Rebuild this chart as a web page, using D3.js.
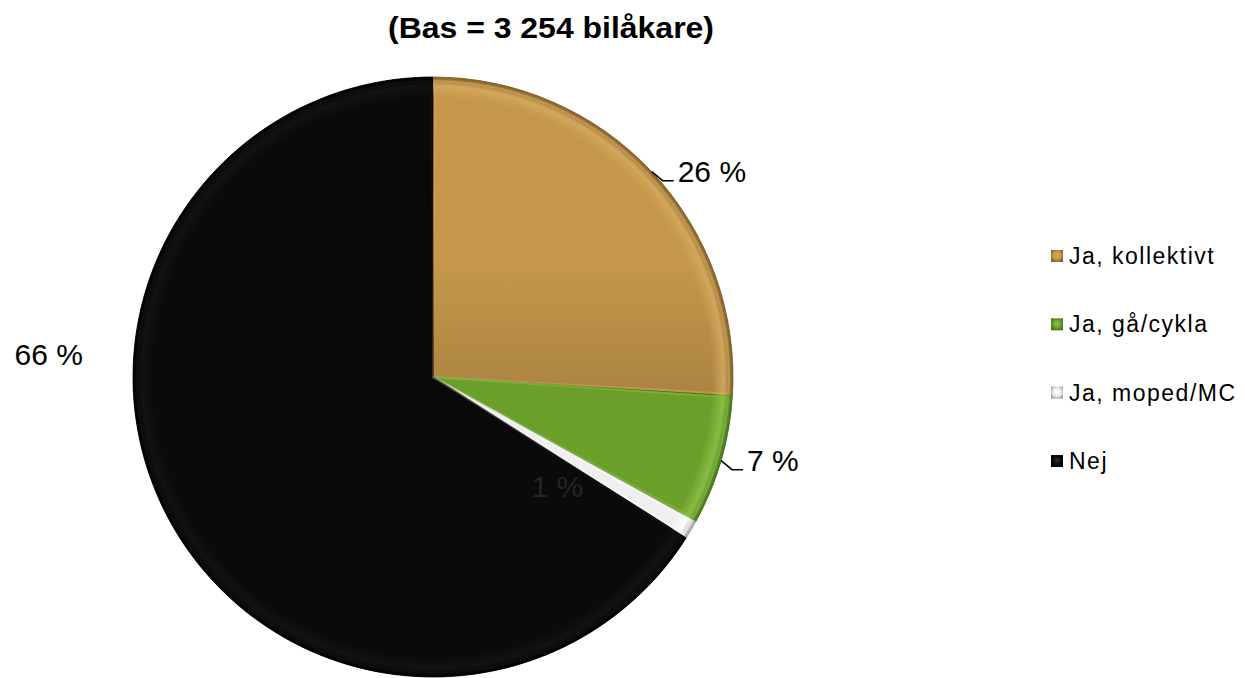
<!DOCTYPE html>
<html>
<head>
<meta charset="utf-8">
<script src="https://cdn.jsdelivr.net/npm/d3@7"></script>
<style>
  html, body { margin: 0; padding: 0; background: #fff; }
  svg { display: block; font-family: "Liberation Sans", Arial, sans-serif; }
</style>
</head>
<body>
<svg id="chart" width="1245" height="678"></svg>
<script>
const title = "(Bas = 3 254 bilåkare)";
const categories = ["Ja, kollektivt", "Ja, gå/cykla", "Ja, moped/MC", "Nej"];
const values = [26, 7, 1, 66];
const labels = ["26 %", "7 %", "1 %", "66 %"];
const colors = ["#C4974A", "#6A9F2A", "#EFEFEF", "#0A0A0A"];
const darkColors = ["#AC8442", "#6A9F2A", "#EFEFEF", "#0A0A0A"];
const highlights = ["#D6AC60", "#8EC447", "#FFFFFF", "#141414"];
const shades = ["#7E5C28", "#44701A", "#A0A0A0", "#000000"];

const svg = d3.select("#chart");
const cx = 433, cy = 377, R = 300;

const defs = svg.append("defs");
categories.forEach((c, i) => {
  const lin = defs.append("linearGradient").attr("id", "base" + i)
    .attr("gradientUnits", "userSpaceOnUse")
    .attr("x1", 0).attr("y1", -R).attr("x2", 0).attr("y2", R * 0.05);
  lin.append("stop").attr("offset", "0%").attr("stop-color", colors[i]);
  lin.append("stop").attr("offset", "60%").attr("stop-color", colors[i]);
  lin.append("stop").attr("offset", "100%").attr("stop-color", darkColors[i]);
  const g = defs.append("radialGradient").attr("id", "rim" + i)
    .attr("gradientUnits", "userSpaceOnUse").attr("cx", 0).attr("cy", 0).attr("r", R);
  g.append("stop").attr("offset", "0%").attr("stop-color", highlights[i]).attr("stop-opacity", 0);
  g.append("stop").attr("offset", "93%").attr("stop-color", highlights[i]).attr("stop-opacity", 0);
  g.append("stop").attr("offset", "97%").attr("stop-color", highlights[i]).attr("stop-opacity", 0.8);
  g.append("stop").attr("offset", "100%").attr("stop-color", shades[i]).attr("stop-opacity", 1);
  const lg = defs.append("radialGradient").attr("id", "lg" + i)
    .attr("cx", "50%").attr("cy", "45%").attr("r", "60%");
  lg.append("stop").attr("offset", "0%").attr("stop-color", i === 3 ? "#333" : highlights[i]);
  lg.append("stop").attr("offset", "55%").attr("stop-color", colors[i]);
  lg.append("stop").attr("offset", "100%").attr("stop-color", shades[i]);
});

// Title
svg.append("text")
  .attr("x", 551).attr("y", 38)
  .attr("text-anchor", "middle")
  .attr("font-weight", "bold")
  .attr("font-size", 29)
  .attr("textLength", 326).attr("lengthAdjust", "spacingAndGlyphs")
  .attr("fill", "#000")
  .text(title);

const pie = d3.pie().sort(null).value(d => d)(values);
const arc = d3.arc().innerRadius(0).outerRadius(R);
const g = svg.append("g").attr("transform", `translate(${cx},${cy})`);

g.selectAll("path.slice").data(pie).join("path")
  .attr("class", "slice")
  .attr("d", arc)
  .attr("fill", (d, i) => `url(#base${i})`)
  .attr("stroke", (d, i) => shades[i])
  .attr("stroke-width", 0.8)
  .attr("stroke-linejoin", "round");

g.selectAll("path.rim").data(pie).join("path")
  .attr("class", "rim")
  .attr("d", arc)
  .attr("fill", (d, i) => `url(#rim${i})`);

const bevel = d3.arc().innerRadius(0).outerRadius(R - 4);
g.selectAll("path.bevel").data(pie).join("path")
  .attr("class", "bevel")
  .attr("d", d => bevel({startAngle: d.startAngle + 0.006, endAngle: d.endAngle - 0.006}))
  .attr("fill", "none")
  .attr("stroke", (d, i) => highlights[i])
  .attr("stroke-opacity", (d, i) => i === 3 ? 0.5 : 0.45)
  .attr("stroke-width", 2);

// Labels
const outer = d3.arc().innerRadius(R).outerRadius(R);
function leaderLabel(d, i) {
  const p = outer.centroid(d);
  const p1 = [p[0] + 11, p[1] + 9];
  const p2 = [p1[0] + 11, p1[1]];
  g.append("path")
    .attr("d", d3.line()([p, p1, p2]))
    .attr("fill", "none").attr("stroke", "#000").attr("stroke-width", 1.5);
  g.append("text")
    .attr("x", p2[0] + 4).attr("y", p2[1] + 1)
    .attr("font-size", 30).attr("fill", "#000")
    .text(labels[i]);
}
leaderLabel(pie[0], 0);
leaderLabel(pie[1], 1);

{
  const a = (pie[2].startAngle + pie[2].endAngle) / 2 + 0.19;
  const r = 166;
  g.append("text")
    .attr("x", r * Math.sin(a)).attr("y", -r * Math.cos(a) + 10)
    .attr("text-anchor", "middle")
    .attr("font-size", 30).attr("fill", "#242424")
    .text(labels[2]);
}
{
  const a = 1.5 * Math.PI + 0.06;
  const r = 385;
  g.append("text")
    .attr("x", r * Math.sin(a)).attr("y", -r * Math.cos(a) + 11)
    .attr("text-anchor", "middle")
    .attr("font-size", 30).attr("fill", "#000")
    .text(labels[3]);
}

// Legend
const legY = d3.scalePoint().domain(categories).range([256, 461]);
const leg = svg.append("g");
categories.forEach((c, i) => {
  const y = legY(c);
  leg.append("rect")
    .attr("x", 1051).attr("y", y - 6).attr("width", 12).attr("height", 12)
    .attr("fill", `url(#lg${i})`);
  leg.append("text")
    .attr("x", 1069).attr("y", y + 8)
    .attr("font-size", 23).attr("letter-spacing", 1.5)
    .attr("fill", "#000")
    .text(c);
});
</script>
</body>
</html>
